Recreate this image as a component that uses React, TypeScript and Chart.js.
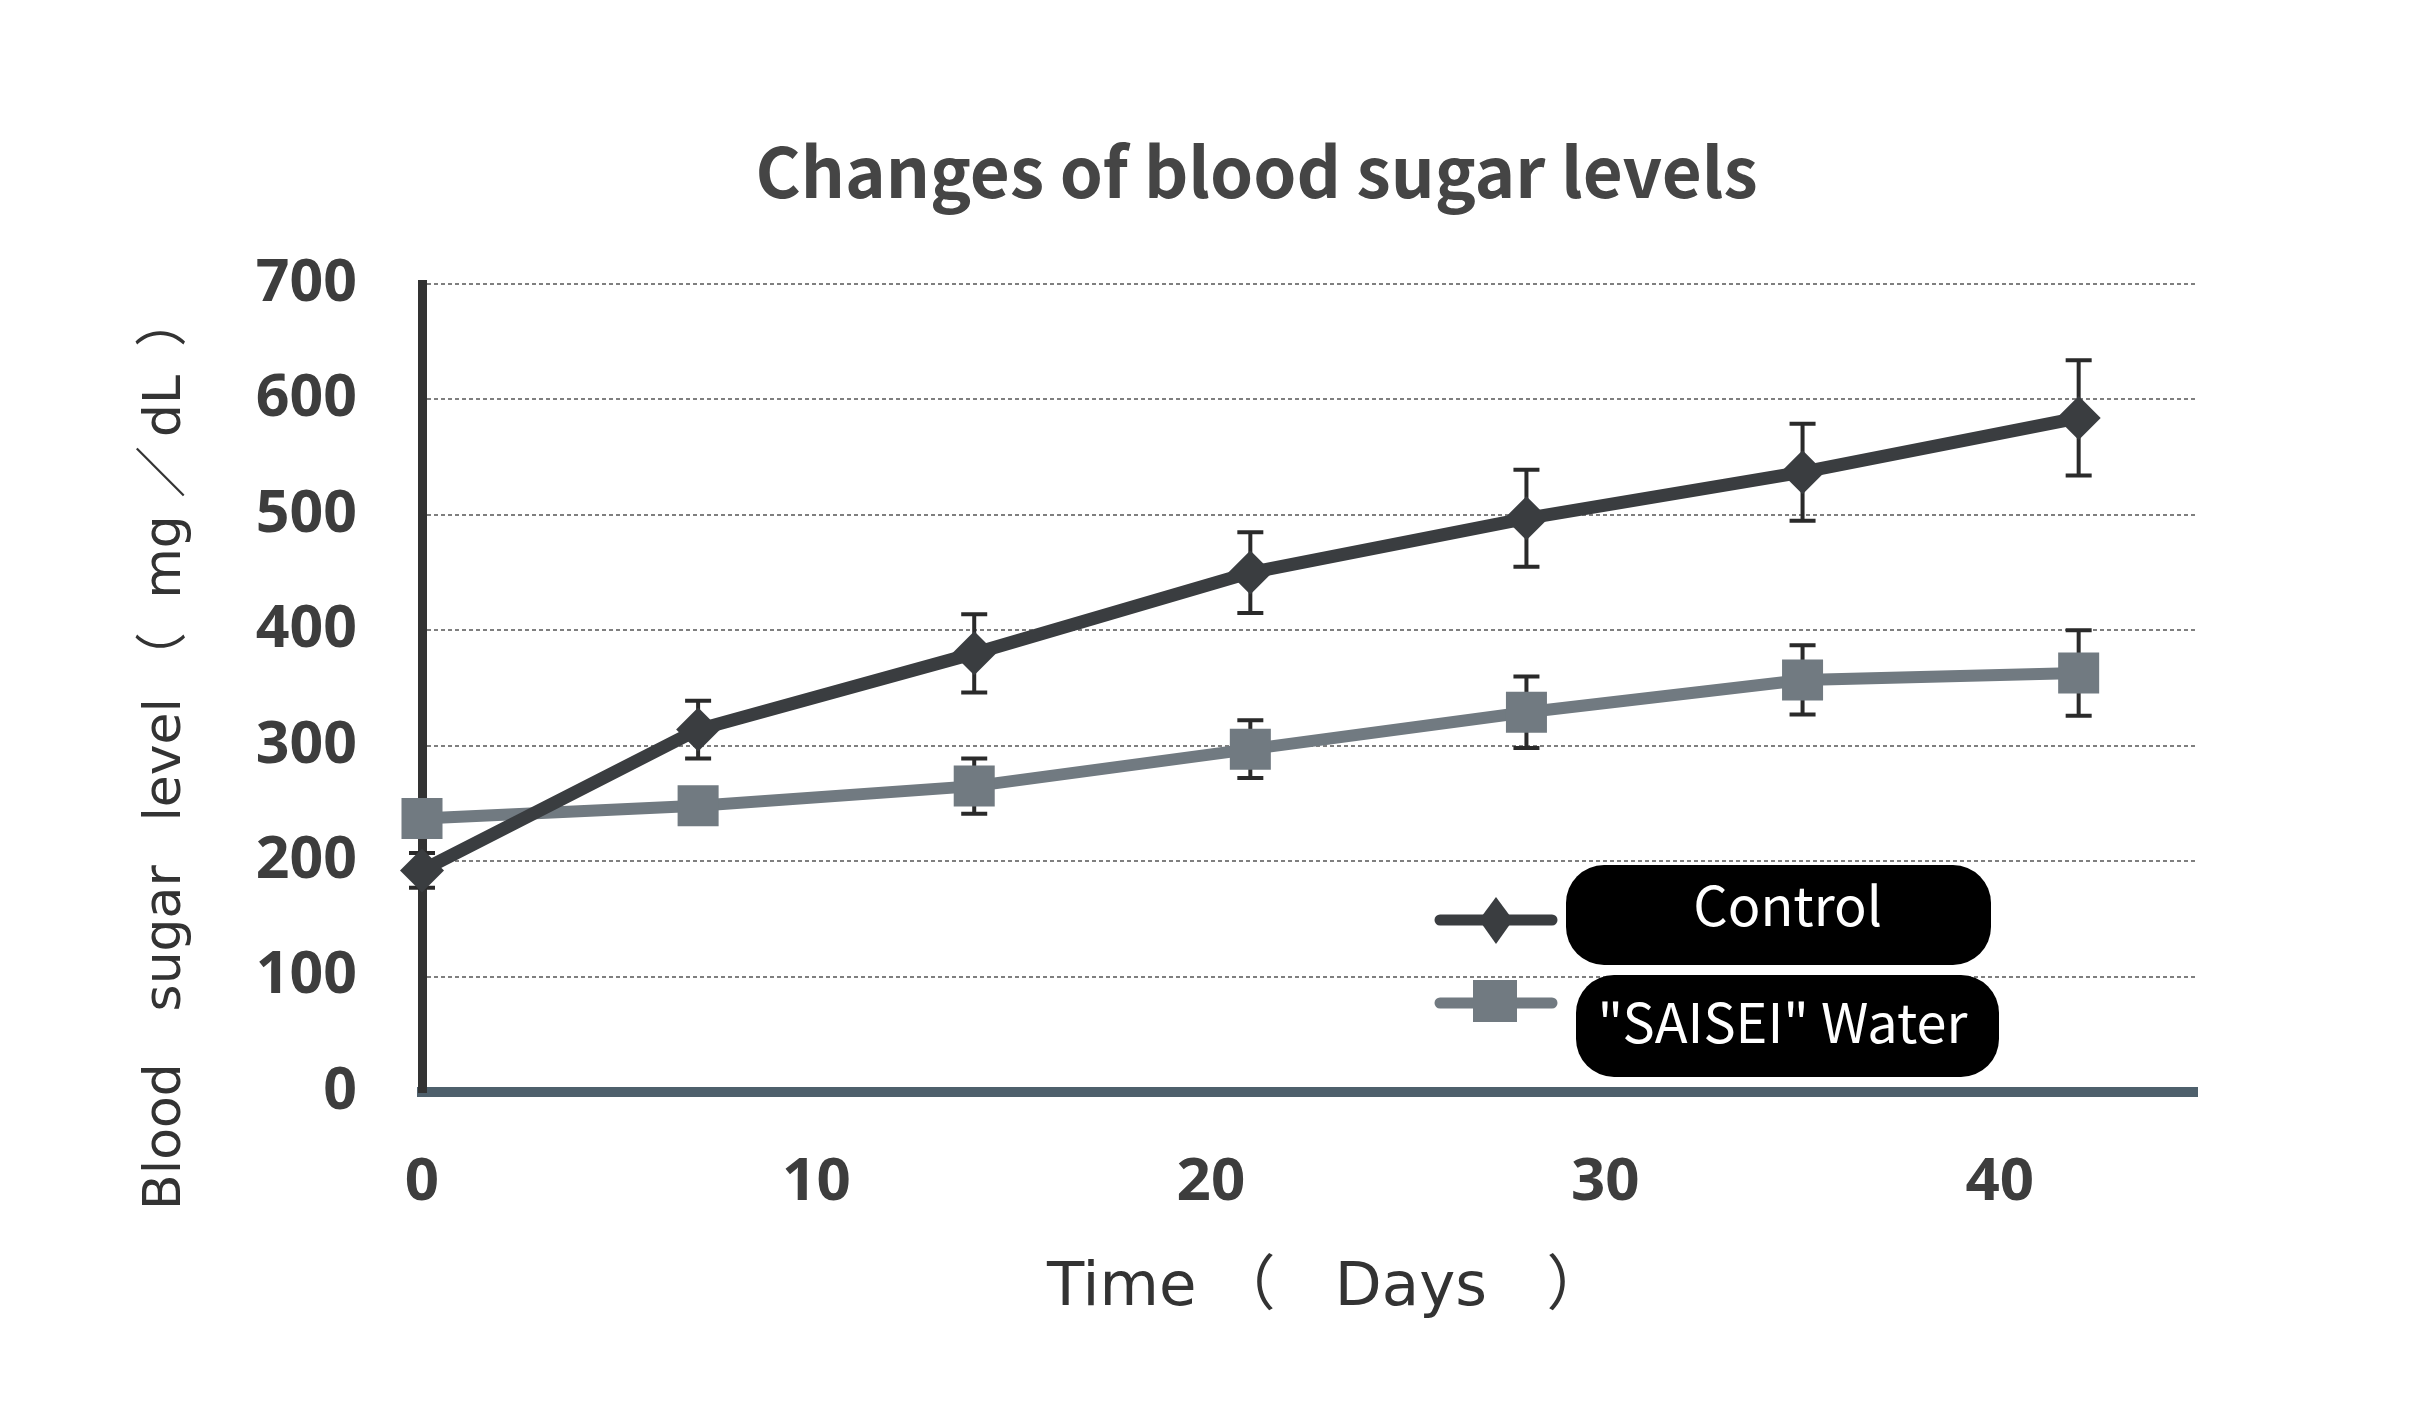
import React, { useEffect, useRef } from "react";
import { Chart, registerables } from "chart.js";

Chart.register(...registerables);

// ---- data ----
const days = [0, 7, 14, 21, 28, 35, 42];
const controlValues = [192, 314, 380, 450, 497, 537, 584];
const controlErrors = [15, 25, 34, 35, 42, 42, 50];
const saiseiValues = [237, 248, 265, 297, 329, 357, 363];
const saiseiErrors = [10, 12, 24, 25, 31, 30, 37];
const seriesLabels = ["Control", "\"SAISEI\" Water"];
const xTickValues = [0, 10, 20, 30, 40];
const yTickValues = [0, 100, 200, 300, 400, 500, 600, 700];
const titleText = "Changes of blood sugar levels";
const xTitleParts = ["Time", "（", "Days", "）"];
const yTitleParts = ["Blood", "sugar", "level", "（", "mg", "／", "dL", "）"];

const CONTROL_COLOR = "#3a3d40";
const SAISEI_COLOR = "#717a81";
const TEXT_COLOR = "#3d3d3d";

function inkText(ctx: CanvasRenderingContext2D, text: string, cx: number, baseY: number) {
  ctx.textAlign = "left";
  ctx.textBaseline = "alphabetic";
  const m = ctx.measureText(text);
  const x = cx - (m.actualBoundingBoxRight - m.actualBoundingBoxLeft) / 2;
  ctx.fillText(text, x, baseY);
}

const errorBarPlugin = {
  id: "errorBars",
  beforeDatasetsDraw(chart: any) {
    const { ctx, scales } = chart;
    const xs = scales.x;
    const ys = scales.y;
    const sets: [number[], number[]][] = [
      [controlValues, controlErrors],
      [saiseiValues, saiseiErrors],
    ];
    ctx.save();
    ctx.strokeStyle = "#2a2a2a";
    ctx.lineWidth = 4;
    sets.forEach(([vals, errs]) => {
      vals.forEach((v, i) => {
        const px = xs.getPixelForValue(days[i]);
        const t = ys.getPixelForValue(v + errs[i]);
        const b = ys.getPixelForValue(v - errs[i]);
        ctx.beginPath();
        ctx.moveTo(px, t);
        ctx.lineTo(px, b);
        ctx.moveTo(px - 13, t);
        ctx.lineTo(px + 13, t);
        ctx.moveTo(px - 13, b);
        ctx.lineTo(px + 13, b);
        ctx.stroke();
      });
    });
    ctx.restore();
  },
};

const decorPlugin = {
  id: "decor",
  afterDraw(chart: any) {
    const ctx: CanvasRenderingContext2D = chart.ctx;
    ctx.save();
    // main title
    ctx.fillStyle = "#454545";
    ctx.font = 'bold 69px "Noto Sans CJK JP"';
    inkText(ctx, titleText, 1257, 198);

    // x title
    ctx.fillStyle = "#333333";
    const xCenters = [1120, 1265, 1412, 1557];
    xTitleParts.forEach((p, i) => {
      ctx.font = p === "（" || p === "）" ? '60px "Noto Sans CJK JP"' : '61px "DejaVu Sans"';
      inkText(ctx, p, xCenters[i], 1305);
    });

    // y title (rotated)
    const yCenters = [1136, 937, 760, 641, 557, 472, 405, 338];
    ctx.save();
    ctx.translate(180, 0);
    ctx.rotate(-Math.PI / 2);
    yTitleParts.forEach((p, i) => {
      ctx.font = p === "（" || p === "）" || p === "／" ? '52px "Noto Sans CJK JP"' : '52px "DejaVu Sans"';
      inkText(ctx, p, -yCenters[i], 0);
    });
    ctx.restore();

    // legend: control
    ctx.lineCap = "round";
    ctx.strokeStyle = CONTROL_COLOR;
    ctx.lineWidth = 11;
    ctx.beginPath();
    ctx.moveTo(1440, 920);
    ctx.lineTo(1552, 920);
    ctx.stroke();
    ctx.fillStyle = CONTROL_COLOR;
    ctx.beginPath();
    ctx.moveTo(1496, 897);
    ctx.lineTo(1513, 920);
    ctx.lineTo(1496, 944);
    ctx.lineTo(1479, 920);
    ctx.closePath();
    ctx.fill();

    // legend: saisei
    ctx.strokeStyle = SAISEI_COLOR;
    ctx.beginPath();
    ctx.moveTo(1440, 1003);
    ctx.lineTo(1552, 1003);
    ctx.stroke();
    ctx.fillStyle = SAISEI_COLOR;
    ctx.fillRect(1473, 980, 44, 42);

    // legend boxes
    ctx.fillStyle = "#000000";
    ctx.beginPath();
    (ctx as any).roundRect(1566, 865, 425, 100, 38);
    ctx.fill();
    ctx.beginPath();
    (ctx as any).roundRect(1576, 975, 423, 102, 38);
    ctx.fill();

    ctx.fillStyle = "#ffffff";
    ctx.font = '54px "Noto Sans CJK JP"';
    inkText(ctx, seriesLabels[0], 1788, 926);
    inkText(ctx, seriesLabels[1], 1785, 1043);
    ctx.restore();
  },
};

export default function App() {
  const ref = useRef<HTMLCanvasElement>(null);
  useEffect(() => {
    document.body.style.margin = "0";
    const tickFont = { family: '"Noto Sans", "DejaVu Sans", sans-serif', size: 60, weight: "bold" as const };
    const chart = new Chart(ref.current as HTMLCanvasElement, {
      type: "line",
      data: {
        datasets: [
          {
            label: seriesLabels[0],
            data: days.map((d, i) => ({ x: d, y: controlValues[i] })),
            borderColor: CONTROL_COLOR,
            backgroundColor: CONTROL_COLOR,
            borderWidth: 13,
            pointStyle: "rectRot",
            pointRadius: 22,
            pointBorderWidth: 0,
            pointBackgroundColor: CONTROL_COLOR,
            tension: 0,
            fill: false,
            clip: false as any,
          },
          {
            label: seriesLabels[1],
            data: days.map((d, i) => ({ x: d, y: saiseiValues[i] })),
            borderColor: SAISEI_COLOR,
            backgroundColor: SAISEI_COLOR,
            borderWidth: 12,
            pointStyle: "rect",
            pointRadius: 29,
            pointBorderWidth: 0,
            pointBackgroundColor: SAISEI_COLOR,
            tension: 0,
            fill: false,
            clip: false as any,
          },
        ],
      },
      options: {
        responsive: false,
        animation: false,
        devicePixelRatio: 1,
        layout: { padding: { left: 0, right: 237, top: 284, bottom: 0 } },
        plugins: {
          legend: { display: false },
          title: { display: false },
          tooltip: { enabled: false },
        },
        scales: {
          x: {
            type: "linear",
            min: 0,
            max: 45,
            afterBuildTicks: (s: any) => {
              s.ticks = xTickValues.map((v) => ({ value: v }));
            },
            afterFit: (s: any) => {
              s.height = 318;
            },
            grid: { display: false, drawTicks: false },
            border: { display: true, color: "#4e606c", width: 10 },
            ticks: { font: tickFont, color: TEXT_COLOR, padding: 55, maxRotation: 0, autoSkip: false },
          },
          y: {
            type: "linear",
            min: 0,
            max: 700,
            afterBuildTicks: (s: any) => {
              s.ticks = yTickValues.map((v) => ({ value: v }));
            },
            afterFit: (s: any) => {
              s.width = 422;
            },
            grid: { color: "#7f7f7f", lineWidth: 2, drawTicks: false },
            border: { display: true, color: "#333333", width: 9, dash: [4, 3] },
            ticks: { font: { ...tickFont, size: 59 }, color: TEXT_COLOR, padding: 65, autoSkip: false },
          },
        },
      },
      plugins: [errorBarPlugin, decorPlugin],
    });
    return () => chart.destroy();
  }, []);
  return (
    <div style={{ position: "absolute", left: 0, top: 0, width: 2434, height: 1410, background: "#ffffff" }}>
      <canvas ref={ref} width={2434} height={1410} style={{ display: "block", width: 2434, height: 1410 }} />
    </div>
  );
}
